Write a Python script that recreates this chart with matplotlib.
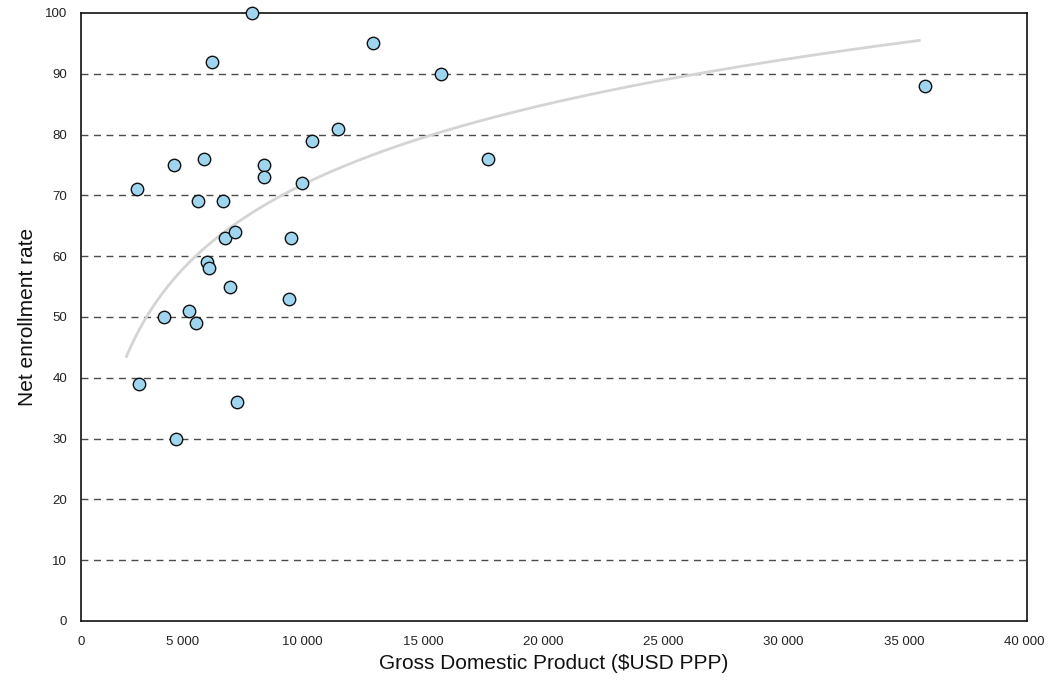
import numpy as np
import matplotlib
matplotlib.use("Agg")
import matplotlib.pyplot as plt
import matplotlib.transforms as mtransforms
from matplotlib.ticker import FuncFormatter

# Data: GDP (USD PPP) vs net enrollment rate
gdp = [2370, 2450, 3930, 3510, 4020, 4570, 4860, 4950, 5200, 5330,
       5410, 5540, 6000, 6090, 6300, 6510, 6600, 7220, 7740, 7740,
       8880, 8790, 9340, 9780, 10850, 12350, 15220, 17200, 35700]
enroll = [71, 39, 75, 50, 30, 51, 49, 69, 76, 59,
          58, 92, 69, 63, 55, 64, 36, 100, 75, 73,
          63, 53, 72, 79, 81, 95, 90, 76, 88]

# Logarithmic trend line: y = a + b*ln(x)
trend_a = -91.3
trend_b = 17.83
trend_range = (1900, 35500)

x_ticks = [0, 5000, 10000, 15000, 20000, 25000, 30000, 35000, 40000]
y_ticks = [0, 10, 20, 30, 40, 50, 60, 70, 80, 90, 100]

fig = plt.figure(figsize=(10.51, 6.87), dpi=100)
ax = fig.add_axes([0.0771, 0.0961, 0.9001, 0.885])

for yv in y_ticks[1:-1]:
    ax.axhline(yv, color="#4a4a4a", linewidth=1.0, linestyle=(0, (5, 4)), zorder=1)

xt = np.linspace(trend_range[0], trend_range[1], 300)
ax.plot(xt, trend_a + trend_b * np.log(xt), color="#d4d4d4", linewidth=2.0, zorder=2,
        solid_capstyle="butt")

ax.scatter(gdp, enroll, s=80, facecolor="#9fd5ee", edgecolor="#111111", linewidth=1.0,
           zorder=3, clip_on=False)

ax.set_xlim(0, 40000)
ax.set_ylim(0, 100)
ax.set_xticks(x_ticks)
ax.set_yticks(y_ticks)
ax.xaxis.set_major_formatter(FuncFormatter(lambda v, p: f"{int(v):,}".replace(",", " ")))
ax.tick_params(length=0)
ax.tick_params(axis="x", pad=11)
ax.tick_params(axis="y", pad=10)
for lab in ax.get_xticklabels() + ax.get_yticklabels():
    lab.set_fontfamily("Liberation Sans")
    lab.set_fontsize(9.5)
    lab.set_color("#222222")

# the reference places the x tick labels slightly left of their ticks
for v, lab in zip(x_ticks, ax.get_xticklabels()):
    if v > 0:
        dx_px = -19 + 0.000402 * v
        off = mtransforms.ScaledTranslation(dx_px / fig.dpi, 0, fig.dpi_scale_trans)
        lab.set_transform(lab.get_transform() + off)

for sp in ax.spines.values():
    sp.set_linewidth(1.2)
    sp.set_color("#111111")

ax.set_xlabel("Gross Domestic Product ($USD PPP)", fontsize=15, family="Liberation Sans",
              labelpad=4, color="#111111")
ax.set_ylabel("Net enrollment rate", fontsize=15, family="Liberation Sans",
              labelpad=6, color="#111111")

fig.savefig("out.png", dpi=100)
